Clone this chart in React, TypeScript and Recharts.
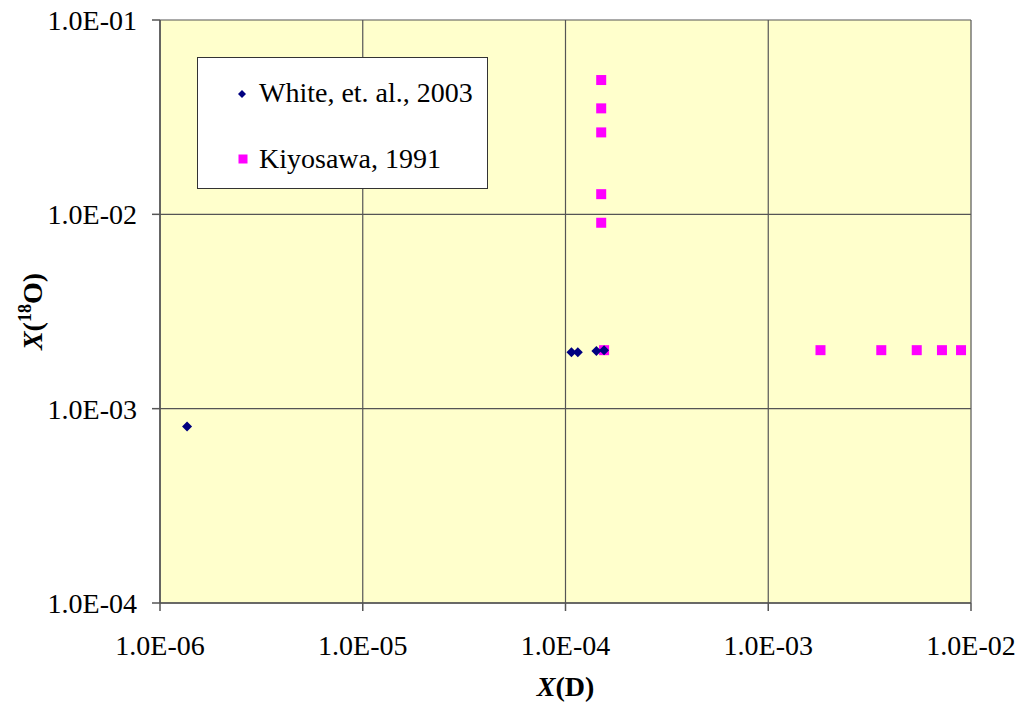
import React from 'react';
import { ScatterChart, Scatter, XAxis, YAxis, CartesianGrid, Legend, Label } from 'recharts';

const xTicks = [1e-6, 1e-5, 1e-4, 1e-3, 1e-2];
const yTicks = [1e-4, 1e-3, 1e-2, 1e-1];

const whiteName = 'White, et. al., 2003';
const whiteX = [1.36e-6, 1.07e-4, 1.15e-4, 1.42e-4, 1.55e-4];
const whiteY = [8.1e-4, 1.95e-3, 1.95e-3, 1.98e-3, 2.0e-3];

const kiyoName = 'Kiyosawa, 1991';
const kiyoX = [1.5e-4, 1.5e-4, 1.5e-4, 1.5e-4, 1.5e-4, 1.55e-4, 1.81e-3, 3.61e-3, 5.4e-3, 7.19e-3, 8.93e-3];
const kiyoY = [4.91e-2, 3.51e-2, 2.64e-2, 1.27e-2, 9.05e-3, 2.0e-3, 2.0e-3, 2.0e-3, 2.0e-3, 2.0e-3, 2.0e-3];

const legendOrder = [whiteName, kiyoName];

const whiteData = whiteX.map((x, i) => ({ x, y: whiteY[i] }));
const kiyoData = kiyoX.map((x, i) => ({ x, y: kiyoY[i] }));

const NAVY = '#000080';
const MAGENTA = '#FF00FF';
const FONT = '"Liberation Serif", "Times New Roman", serif';

const fmt = (v: number) => {
  const [m, e] = v.toExponential(1).split('e');
  const n = parseInt(e, 10);
  const sign = n < 0 ? '-' : '+';
  const abs = Math.abs(n);
  return `${m}E${sign}${abs < 10 ? '0' + abs : abs}`;
};

const Diamond = (props: any) => {
  const { cx, cy } = props;
  if (cx == null || cy == null) return null;
  const r = 5;
  return <polygon points={`${cx},${cy - r} ${cx + r},${cy} ${cx},${cy + r} ${cx - r},${cy}`} fill={NAVY} />;
};

const Square = (props: any) => {
  const { cx, cy } = props;
  if (cx == null || cy == null) return null;
  const s = 10;
  return <rect x={cx - s / 2} y={cy - s / 2} width={s} height={s} fill={MAGENTA} />;
};

const XTitle = (props: any) => {
  const vb = props.viewBox || {};
  const cx = vb.x + vb.width / 2;
  return (
    <text x={cx} y={696} textAnchor="middle" fontFamily={FONT} fontSize={28} fontWeight="bold" fill="#000">
      <tspan fontStyle="italic">X</tspan>
      <tspan>(D)</tspan>
    </text>
  );
};

const YTitle = (props: any) => {
  const vb = props.viewBox || {};
  const cy = vb.y + vb.height / 2;
  const bx = 42;
  return (
    <text x={bx} y={cy} transform={`rotate(-90, ${bx}, ${cy})`} textAnchor="middle" fontFamily={FONT} fontSize={28} fontWeight="bold" fill="#000">
      <tspan fontStyle="italic">X</tspan>
      <tspan>(</tspan>
      <tspan fontSize={18} dy={-11}>18</tspan>
      <tspan dy={11}>O)</tspan>
    </text>
  );
};

const renderLegend = (props: any) => {
  const payload = [...(props.payload || [])].sort(
    (a: any, b: any) => legendOrder.indexOf(a.value) - legendOrder.indexOf(b.value)
  );
  const rows = [
    { top: 21, my: 36, mx: 44 },
    { top: 86.6, my: 101, mx: 45 },
  ];
  return (
    <div
      style={{
        width: 291,
        height: 132,
        boxSizing: 'border-box',
        border: '1.5px solid #333',
        background: '#fff',
        position: 'relative',
        fontFamily: FONT,
        fontSize: 28,
        lineHeight: '28px',
        color: '#000',
      }}
    >
      {payload.map((p: any, i: number) => {
        const r = rows[i] || rows[0];
        const isDiamond = p.value === whiteName;
        return (
          <React.Fragment key={p.value}>
            <svg style={{ position: 'absolute', left: r.mx - 6, top: r.my - 6 }} width={12} height={12}>
              {isDiamond ? (
                <polygon points="6,2 10,6 6,10 2,6" fill={NAVY} />
              ) : (
                <rect x={1.5} y={1.5} width={9} height={9} fill={MAGENTA} />
              )}
            </svg>
            <span style={{ position: 'absolute', left: 61, top: r.top, whiteSpace: 'nowrap' }}>{p.value}</span>
          </React.Fragment>
        );
      })}
    </div>
  );
};

export default function App() {
  return (
    <div style={{ position: 'absolute', left: 0, top: 0, width: 1020, height: 702 }}>
      <ScatterChart width={1020} height={702} margin={{ top: 20, right: 49, bottom: 0, left: 0 }}>
        <CartesianGrid fill="#FFFFCC" stroke="#555" strokeWidth={1.2} />
        <XAxis
          type="number"
          dataKey="x"
          scale="log"
          domain={[1e-6, 1e-2]}
          ticks={xTicks}
          allowDataOverflow
          tickFormatter={fmt}
          height={99}
          tickSize={8}
          tickMargin={24}
          stroke="#555"
          strokeWidth={1.5}
          tick={{ fontFamily: FONT, fontSize: 28, fill: '#000' }}
          interval={0}
        >
          <Label content={XTitle} />
        </XAxis>
        <YAxis
          type="number"
          dataKey="y"
          scale="log"
          domain={[1e-4, 1e-1]}
          ticks={yTicks}
          allowDataOverflow
          tickFormatter={fmt}
          width={160}
          tickSize={8}
          tickMargin={15}
          stroke="#555"
          strokeWidth={1.5}
          tick={{ fontFamily: FONT, fontSize: 28, fill: '#000' }}
          interval={0}
        >
          <Label content={YTitle} />
        </YAxis>
        <Legend
          layout="horizontal"
          verticalAlign="middle"
          align="center"
          wrapperStyle={{ left: 197, top: 57, width: 291, height: 132 }}
          content={renderLegend}
        />
        <Scatter name={kiyoName} data={kiyoData} fill={MAGENTA} shape={Square} isAnimationActive={false} />
        <Scatter name={whiteName} data={whiteData} fill={NAVY} shape={Diamond} isAnimationActive={false} />
      </ScatterChart>
    </div>
  );
}
